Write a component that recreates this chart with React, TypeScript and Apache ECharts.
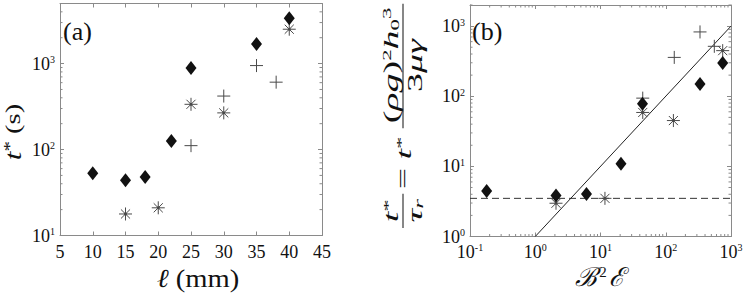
import React, { useEffect, useRef } from 'react';
import * as echarts from 'echarts';

// ---- Panel (a): t* (s) vs l (mm)
const lengthTicks = [5, 10, 15, 20, 25, 30, 35, 40, 45];
const diamondL = [10, 15, 18, 22, 25, 35, 40];
const diamondT = [53, 44, 48, 126, 890, 1690, 3370];
const starL = [15, 20, 25, 30, 40];
const starT = [17.8, 21, 336, 267, 2510];
const plusL = [25, 30, 35, 38];
const plusT = [111, 419, 948, 608];

// ---- Panel (b): t*/tau_r vs B^2 E
const diamondBE = [0.18, 2.08, 6.1, 20.6, 44, 335, 746];
const diamondTr = [4.47, 3.83, 4.05, 10.9, 78, 149, 298];
const starBE = [2.08, 11.7, 44.4, 131, 746];
const starTr = [2.98, 3.5, 58.7, 45, 447];
const plusBE = [44.4, 135, 335, 555];
const plusTr = [94, 358, 826, 515];
const fitBE = [1, 1000];
const fitTr = [1, 1000];
const plateauBE = [0.1, 1000];
const plateauTr = [3.5, 3.5];

// minor tick positions of log axes
const yMinorA = [20, 30, 40, 50, 60, 70, 80, 90, 200, 300, 400, 500, 600, 700, 800, 900, 2000, 3000, 4000];
const xMinorB = [0.2, 0.3, 0.4, 0.5, 0.6, 0.7, 0.8, 0.9, 2, 3, 4, 5, 6, 7, 8, 9, 20, 30, 40, 50, 60, 70, 80, 90, 200, 300, 400, 500, 600, 700, 800, 900];
const yMinorB = [2, 3, 4, 5, 6, 7, 8, 9, 20, 30, 40, 50, 60, 70, 80, 90, 200, 300, 400, 500, 600, 700, 800, 900, 2000];

const SERIF = 'Liberation Serif';
const AX = '#8a8a8a';
const INK = '#111';
const GREY = '#4a4a4a';

const zip = (a: number[], b: number[]) => a.map((v, i) => [v, b[i]]);

const logLabel = (v: number) => {
  const e = Math.log10(v);
  const r = Math.round(e);
  if (Math.abs(e - r) > 1e-6) return '';
  return `{b|10}{s|${r}}`;
};
const logRich = {
  b: { fontSize: 18, fontFamily: SERIF, color: INK },
  s: { fontSize: 10, fontFamily: SERIF, color: INK, verticalAlign: 'top' },
};

const PLUS = 'path://M0,6L12,6M6,0L6,12';
const STAR = 'path://M0,6L12,6M6,0L6,12M1.8,1.8L10.2,10.2M1.8,10.2L10.2,1.8M5.2,5.2L6.8,5.2L6.8,6.8L5.2,6.8Z';

const baseAxis = (extra: any) => ({
  axisLine: { show: true, onZero: false, lineStyle: { color: AX, width: 1 } },
  axisTick: { show: true, inside: true, length: 4, lineStyle: { color: AX } },
  splitLine: { show: false },
  ...extra,
});

const minorSeries = (
  kind: 'x' | 'y',
  vals: number[],
  xi: number,
  yi: number,
  xr: [number, number],
  yr: [number, number]
) => ({
  type: 'custom',
  xAxisIndex: xi,
  yAxisIndex: yi,
  silent: true,
  clip: false,
  z: 1,
  data: kind === 'y' ? vals.map((v) => [xr[0], v]) : vals.map((v) => [v, yr[0]]),
  renderItem: (_p: any, api: any) => {
    const L = 2.5;
    const st = { stroke: AX, lineWidth: 1 };
    if (kind === 'y') {
      const v = api.value(1);
      const a = api.coord([xr[0], v]);
      const b = api.coord([xr[1], v]);
      return {
        type: 'group',
        children: [
          { type: 'line', shape: { x1: a[0], y1: a[1], x2: a[0] + L, y2: a[1] }, style: st },
          { type: 'line', shape: { x1: b[0], y1: b[1], x2: b[0] - L, y2: b[1] }, style: st },
        ],
      };
    }
    const v = api.value(0);
    const a = api.coord([v, yr[0]]);
    const b = api.coord([v, yr[1]]);
    return {
      type: 'group',
      children: [
        { type: 'line', shape: { x1: a[0], y1: a[1], x2: a[0], y2: a[1] - L }, style: st },
        { type: 'line', shape: { x1: b[0], y1: b[1], x2: b[0], y2: b[1] + L }, style: st },
      ],
    };
  },
});

const scatter = (xi: number, yi: number, data: number[][], kind: 'd' | 'p' | 's') => {
  if (kind === 'd') {
    return {
      type: 'scatter', xAxisIndex: xi, yAxisIndex: yi, data,
      symbol: 'diamond', symbolSize: [11, 14],
      itemStyle: { color: INK, opacity: 1 }, z: 5,
    };
  }
  return {
    type: 'scatter', xAxisIndex: xi, yAxisIndex: yi, data,
    symbol: kind === 'p' ? PLUS : STAR, symbolSize: 13,
    itemStyle: { color: GREY, borderColor: GREY, borderWidth: 1, opacity: 1 }, z: 4,
  };
};

export default function App() {
  const ref = useRef<HTMLDivElement>(null);
  useEffect(() => {
    document.body.style.margin = '0';
    if (!ref.current) return;
    const chart = echarts.init(ref.current, undefined, { renderer: 'svg' });
    const tf = (s: number, style = 'normal') => ({ fontSize: s, fontFamily: SERIF, fontStyle: style, fontWeight: 'normal', fill: INK });

    const option: any = {
      animation: false,
      backgroundColor: '#fff',
      textStyle: { fontFamily: SERIF },
      grid: [
        { left: 60, top: 3.5, width: 262, height: 232 },
        { left: 470, top: 5, width: 261, height: 231.5 },
      ],
      xAxis: [
        baseAxis({
          gridIndex: 0, type: 'value', position: 'bottom', min: 5, max: 45, interval: 5,
          axisLabel: {
            show: true, margin: 7, fontSize: 18, fontFamily: SERIF, color: INK,
            formatter: (v: number) => (lengthTicks.includes(v) ? String(v) : ''),
          },
        }),
        baseAxis({
          gridIndex: 0, type: 'value', position: 'top', min: 5, max: 45, interval: 5,
          axisLabel: { show: false },
        }),
        baseAxis({
          gridIndex: 1, type: 'log', logBase: 10, position: 'bottom', min: 0.1, max: 1000,
          axisLabel: { show: true, margin: 6, formatter: logLabel, rich: logRich },
        }),
        baseAxis({
          gridIndex: 1, type: 'log', logBase: 10, position: 'top', min: 0.1, max: 1000,
          axisLabel: { show: false },
        }),
      ],
      yAxis: [
        baseAxis({
          gridIndex: 0, type: 'log', logBase: 10, position: 'left', min: 10, max: 5000,
          axisLabel: { show: true, margin: 5, formatter: logLabel, rich: logRich },
        }),
        baseAxis({
          gridIndex: 0, type: 'log', logBase: 10, position: 'right', min: 10, max: 5000,
          axisLabel: { show: false },
        }),
        baseAxis({
          gridIndex: 1, type: 'log', logBase: 10, position: 'left', min: 1, max: 2000,
          axisLabel: { show: true, margin: 5, formatter: logLabel, rich: logRich },
        }),
        baseAxis({
          gridIndex: 1, type: 'log', logBase: 10, position: 'right', min: 1, max: 2000,
          axisLabel: { show: false },
        }),
      ],
      series: [
        minorSeries('y', yMinorA, 0, 0, [5, 45], [10, 5000]),
        minorSeries('x', xMinorB, 2, 2, [0.1, 1000], [1, 2000]),
        minorSeries('y', yMinorB, 2, 2, [0.1, 1000], [1, 2000]),
        scatter(0, 0, zip(diamondL, diamondT), 'd'),
        scatter(0, 0, zip(starL, starT), 's'),
        scatter(0, 0, zip(plusL, plusT), 'p'),
        {
          type: 'line', xAxisIndex: 2, yAxisIndex: 2, data: zip(plateauBE, plateauTr),
          symbol: 'none', lineStyle: { color: '#333', width: 1, type: [7, 4] }, z: 2,
        },
        {
          type: 'line', xAxisIndex: 2, yAxisIndex: 2, data: zip(fitBE, fitTr),
          symbol: 'none', lineStyle: { color: '#222', width: 1 }, z: 2,
        },
        scatter(2, 2, zip(diamondBE, diamondTr), 'd'),
        scatter(2, 2, zip(starBE, starTr), 's'),
        scatter(2, 2, zip(plusBE, plusTr), 'p'),
      ],
      graphic: [
        { type: 'text', x: 63, y: 31, style: { text: '(a)', ...tf(26), verticalAlign: 'middle' } },
        { type: 'text', x: 472, y: 31, style: { text: '(b)', ...tf(26), verticalAlign: 'middle' } },
        {
          type: 'text', x: 13, y: 132, rotation: Math.PI / 2, scaleX: 1.3,
          style: {
            text: '{t|t}{s|*}{n| (s)}', align: 'center', verticalAlign: 'middle',
            rich: { t: tf(24, 'italic'), s: { ...tf(16), verticalAlign: 'top' }, n: tf(22) },
          },
        },
        {
          type: 'text', x: 198, y: 278, scaleX: 1.1,
          style: {
            text: '{l|ℓ}{n| (mm)}', align: 'center', verticalAlign: 'middle',
            rich: { l: tf(26, 'italic'), n: tf(26) },
          },
        },
        {
          type: 'text', x: 600, y: 277,
          style: {
            text: '{a|ℬ}{s|2}{a|ℰ}', align: 'center', verticalAlign: 'middle',
            rich: { a: tf(26, 'italic'), s: { ...tf(15), verticalAlign: 'top', padding: [0, 2, 0, 2] } },
          },
        },
        {
          type: 'group', x: 403, y: 245, rotation: Math.PI / 2, scaleX: 1.9,
          children: [
            { type: 'line', shape: { x1: 9, y1: 0, x2: 27, y2: 0 }, style: { stroke: INK, lineWidth: 1 } },
            {
              type: 'text', x: 18, y: -2,
              style: {
                text: '{t|t}{s|*}', align: 'center', verticalAlign: 'bottom',
                rich: { t: tf(20, 'italic'), s: { ...tf(13), verticalAlign: 'top' } },
              },
            },
            {
              type: 'text', x: 18, y: 2,
              style: {
                text: '{t|τ}{s|r}', align: 'center', verticalAlign: 'top',
                rich: { t: tf(20, 'italic'), s: { ...tf(13, 'italic'), verticalAlign: 'bottom' } },
              },
            },
            { type: 'text', x: 35, y: 0, style: { text: '=', ...tf(20), align: 'center', verticalAlign: 'middle' } },
            {
              type: 'text', x: 51, y: 1,
              style: {
                text: '{t|t}{s|*}', align: 'center', verticalAlign: 'middle',
                rich: { t: tf(20, 'italic'), s: { ...tf(13), verticalAlign: 'top' } },
              },
            },
            { type: 'line', shape: { x1: 61.5, y1: 0, x2: 127, y2: 0 }, style: { stroke: INK, lineWidth: 1 } },
            {
              type: 'text', x: 94.5, y: -2,
              style: {
                text: '{n|(}{i|ρg}{n|)}{sp|2}{i|h}{sb|0}{sp|3}', align: 'center', verticalAlign: 'bottom',
                rich: {
                  n: tf(20), i: tf(20, 'italic'),
                  sp: { ...tf(12), verticalAlign: 'top' },
                  sb: { ...tf(12), verticalAlign: 'bottom' },
                },
              },
            },
            {
              type: 'text', x: 94.5, y: 2,
              style: {
                text: '{n|3}{i|μγ}', align: 'center', verticalAlign: 'top',
                rich: { n: tf(20), i: tf(20, 'italic') },
              },
            },
          ],
        },
      ],
    };
    chart.setOption(option);
    return () => chart.dispose();
  }, []);
  return <div ref={ref} style={{ width: 747, height: 293 }} />;
}
